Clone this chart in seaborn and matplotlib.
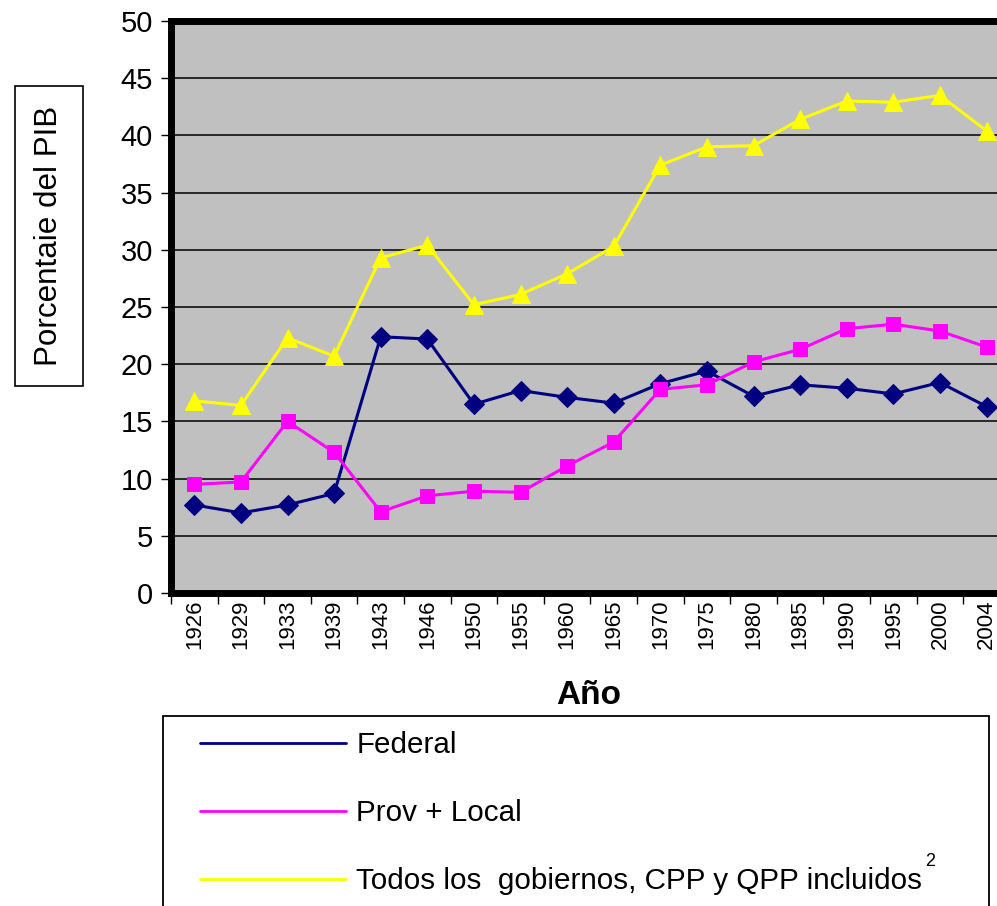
import numpy as np
import pandas as pd
import matplotlib
matplotlib.use('Agg')
import matplotlib.pyplot as plt
from matplotlib.patches import Rectangle
import seaborn as sns

# Datos (porcentaje del PIB)
anios = ['1926', '1929', '1933', '1939', '1943', '1946', '1950', '1955', '1960',
         '1965', '1970', '1975', '1980', '1985', '1990', '1995', '2000', '2004']
federal = [7.7, 7.0, 7.7, 8.7, 22.4, 22.2, 16.5, 17.7, 17.1,
           16.6, 18.3, 19.4, 17.2, 18.2, 17.9, 17.4, 18.4, 16.3]
prov_local = [9.5, 9.7, 15.0, 12.3, 7.1, 8.5, 8.9, 8.8, 11.1,
              13.2, 17.8, 18.2, 20.2, 21.3, 23.1, 23.5, 22.9, 21.5]
todos = [16.8, 16.4, 22.3, 20.7, 29.3, 30.4, 25.2, 26.1, 27.9,
         30.3, 37.4, 39.0, 39.1, 41.4, 43.0, 42.9, 43.5, 40.4]
etiquetas = ['Federal', 'Prov + Local', 'Todos los  gobiernos, CPP y QPP incluidos']

sns.set_style('white')
plt.rcParams['font.family'] = ['Liberation Sans', 'DejaVu Sans']
plt.rcParams.update({'text.color': 'black', 'axes.labelcolor': 'black',
                     'xtick.color': 'black', 'ytick.color': 'black'})

W, H = 997, 906
fig = plt.figure(figsize=(W / 100, H / 100), dpi=100)
ax = fig.add_axes([171 / W, (H - 593) / H, 18 * 46.6 / W, (593 - 21) / H])
ax.set_facecolor('#C0C0C0')

pos = np.arange(len(anios))
df = pd.DataFrame({'pos': pos, 'Federal': federal, 'Prov': prov_local, 'Todos': todos})

series = [('Federal', '#000080', 'D', 10), ('Prov', '#FF00FF', 's', 10.5), ('Todos', '#FFFF00', '^', 13.5)]
for (col, color, mk, ms), lab in zip(series, etiquetas):
    sns.lineplot(data=df, x='pos', y=col, ax=ax, color=color, marker=mk, markersize=ms,
                 markeredgecolor=color, linewidth=2.2, label=lab, legend=False)

ax.set_ylim(0, 50)
ax.set_xlim(-0.5, len(anios) - 0.5)
ax.set_yticks(np.arange(0, 51, 5))
ax.yaxis.grid(True, color='black', linewidth=1.1)
ax.set_axisbelow(True)
ax.tick_params(axis='y', labelsize=21, length=7, width=1, direction='out', left=True, pad=6)

ax.set_xticks(pos)
ax.set_xticklabels(anios, rotation=90, fontsize=16)
ax.set_xticks(np.arange(len(anios) + 1) - 0.5, minor=True)
ax.tick_params(axis='x', which='major', length=0, pad=5)
ax.tick_params(axis='x', which='minor', length=8, width=1, direction='out', bottom=True)
ax.set_xlabel('')
ax.set_ylabel('')

for s in ['left', 'top', 'bottom']:
    ax.spines[s].set_linewidth(5)
    ax.spines[s].set_color('black')
ax.spines['right'].set_visible(False)

fig.text(589 / W, 1 - 695 / H, 'Año', fontsize=24, fontweight='bold', ha='center', va='center')

fig.text(49 / W, 1 - 236 / H, 'Porcentaie del PIB', fontsize=22.6, rotation=90,
         ha='center', va='center',
         bbox=dict(boxstyle='square,pad=0.62', facecolor='white', edgecolor='black', linewidth=1.2))

# marco de la leyenda (cortado por abajo)
fig.patches.append(Rectangle((163 / W, -0.05), (989 - 163) / W, 1 - 716 / H + 0.05,
                             transform=fig.transFigure, facecolor='white',
                             edgecolor='black', linewidth=1.3, zorder=0))

# leyenda (solo lineas)
handles = [plt.Line2D([], [], color=c, linewidth=2) for _, c, _, _ in series]
leg = fig.legend(handles, etiquetas, loc='upper left',
                 bbox_to_anchor=(200 / W, 1 - 731 / H),
                 fontsize=21.3, frameon=False,
                 handlelength=4.95, handletextpad=0.34, labelspacing=1.36,
                 borderpad=0, borderaxespad=0)

fig.text(930 / W, 1 - 862 / H, '2', fontsize=13, ha='center', va='center')

fig.savefig('out.png', dpi=100)
